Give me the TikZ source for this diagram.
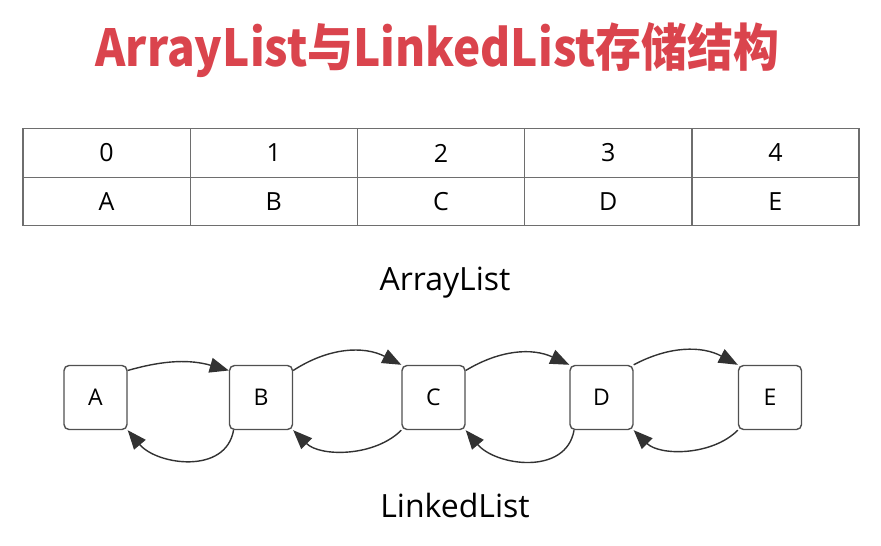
\documentclass[tikz,border=0pt]{standalone}
\usepackage{fontspec}
\setmainfont{Open Sans}
\newfontfamily\cjk{Noto Sans CJK SC}
\usepackage{xcolor}
\usetikzlibrary{positioning,arrows.meta,calc}
\definecolor{titlered}{RGB}{218,68,77}
\definecolor{gridgray}{RGB}{110,110,110}
\definecolor{boxgray}{RGB}{80,80,80}
\definecolor{arrowgray}{RGB}{50,50,50}

\begin{document}
\begin{tikzpicture}[x=1pt,y=-1pt,>={Triangle[length=19pt,width=15pt]},
  cell/.style={draw=gridgray,line width=1.4pt,minimum width=167.2pt,minimum height=48.5pt,inner sep=0pt,font=\fontsize{25}{25}\selectfont},
  elem/.style={draw=boxgray,line width=1.4pt,rounded corners=5pt,minimum width=63pt,minimum height=64pt,inner sep=0pt,font=\fontsize{23}{23}\selectfont},
  link/.style={->,draw=arrowgray,line width=1.4pt},
  caption/.style={font=\fontsize{32}{32}\selectfont,anchor=base}]
  \useasboundingbox (0,0) rectangle (881,546);

  % Title
  \node[anchor=base,text=titlered,font=\cjk\bfseries\fontsize{51}{51}\selectfont] (title) at (437.5,66) {\scalebox{0.9}[1]{ArrayList与LinkedList存储结构}};

  % ArrayList table
  \foreach \i/\v in {0/A,1/B,2/C,3/D,4/E} {
    \node[cell] (idx\i) at ({23+167.2*(\i+0.5)},153) {\i};
    \node[cell] (val\i) at ({23+167.2*(\i+0.5)},201.5) {\v};
  }
  \node[caption] (arraycap) at (445,290) {ArrayList};

  % LinkedList nodes
  \node[elem] (A) at (95.5,397.5) {A};
  \node[elem] (B) at (261,397.5) {B};
  \node[elem] (C) at (433.5,397.5) {C};
  \node[elem] (D) at (601.5,397.5) {D};
  \node[elem] (E) at (770,397.5) {E};
  \node[caption] (linkedcap) at (455,517) {LinkedList};

  % next links
  \draw[link] (A.40) to[bend left=16] (B.140);
  \draw[link] (B.40) to[bend left=30] (C.north west);
  \draw[link] (C.40) to[bend left=28] (D.north west);
  \draw[link] (D.north east) to[bend left=28] (E.north west);

  % prev links
  \draw[link] (B.230) to[out=-100,in=-50,looseness=1.1] (A.south east);
  \draw[link] (C.south west) to[out=-135,in=-45,looseness=0.9] (B.south east);
  \draw[link] (D.230) to[out=-100,in=-50,looseness=1.1] (C.south east);
  \draw[link] (E.south west) to[out=-135,in=-45,looseness=0.9] (D.south east);
\end{tikzpicture}
\end{document}
